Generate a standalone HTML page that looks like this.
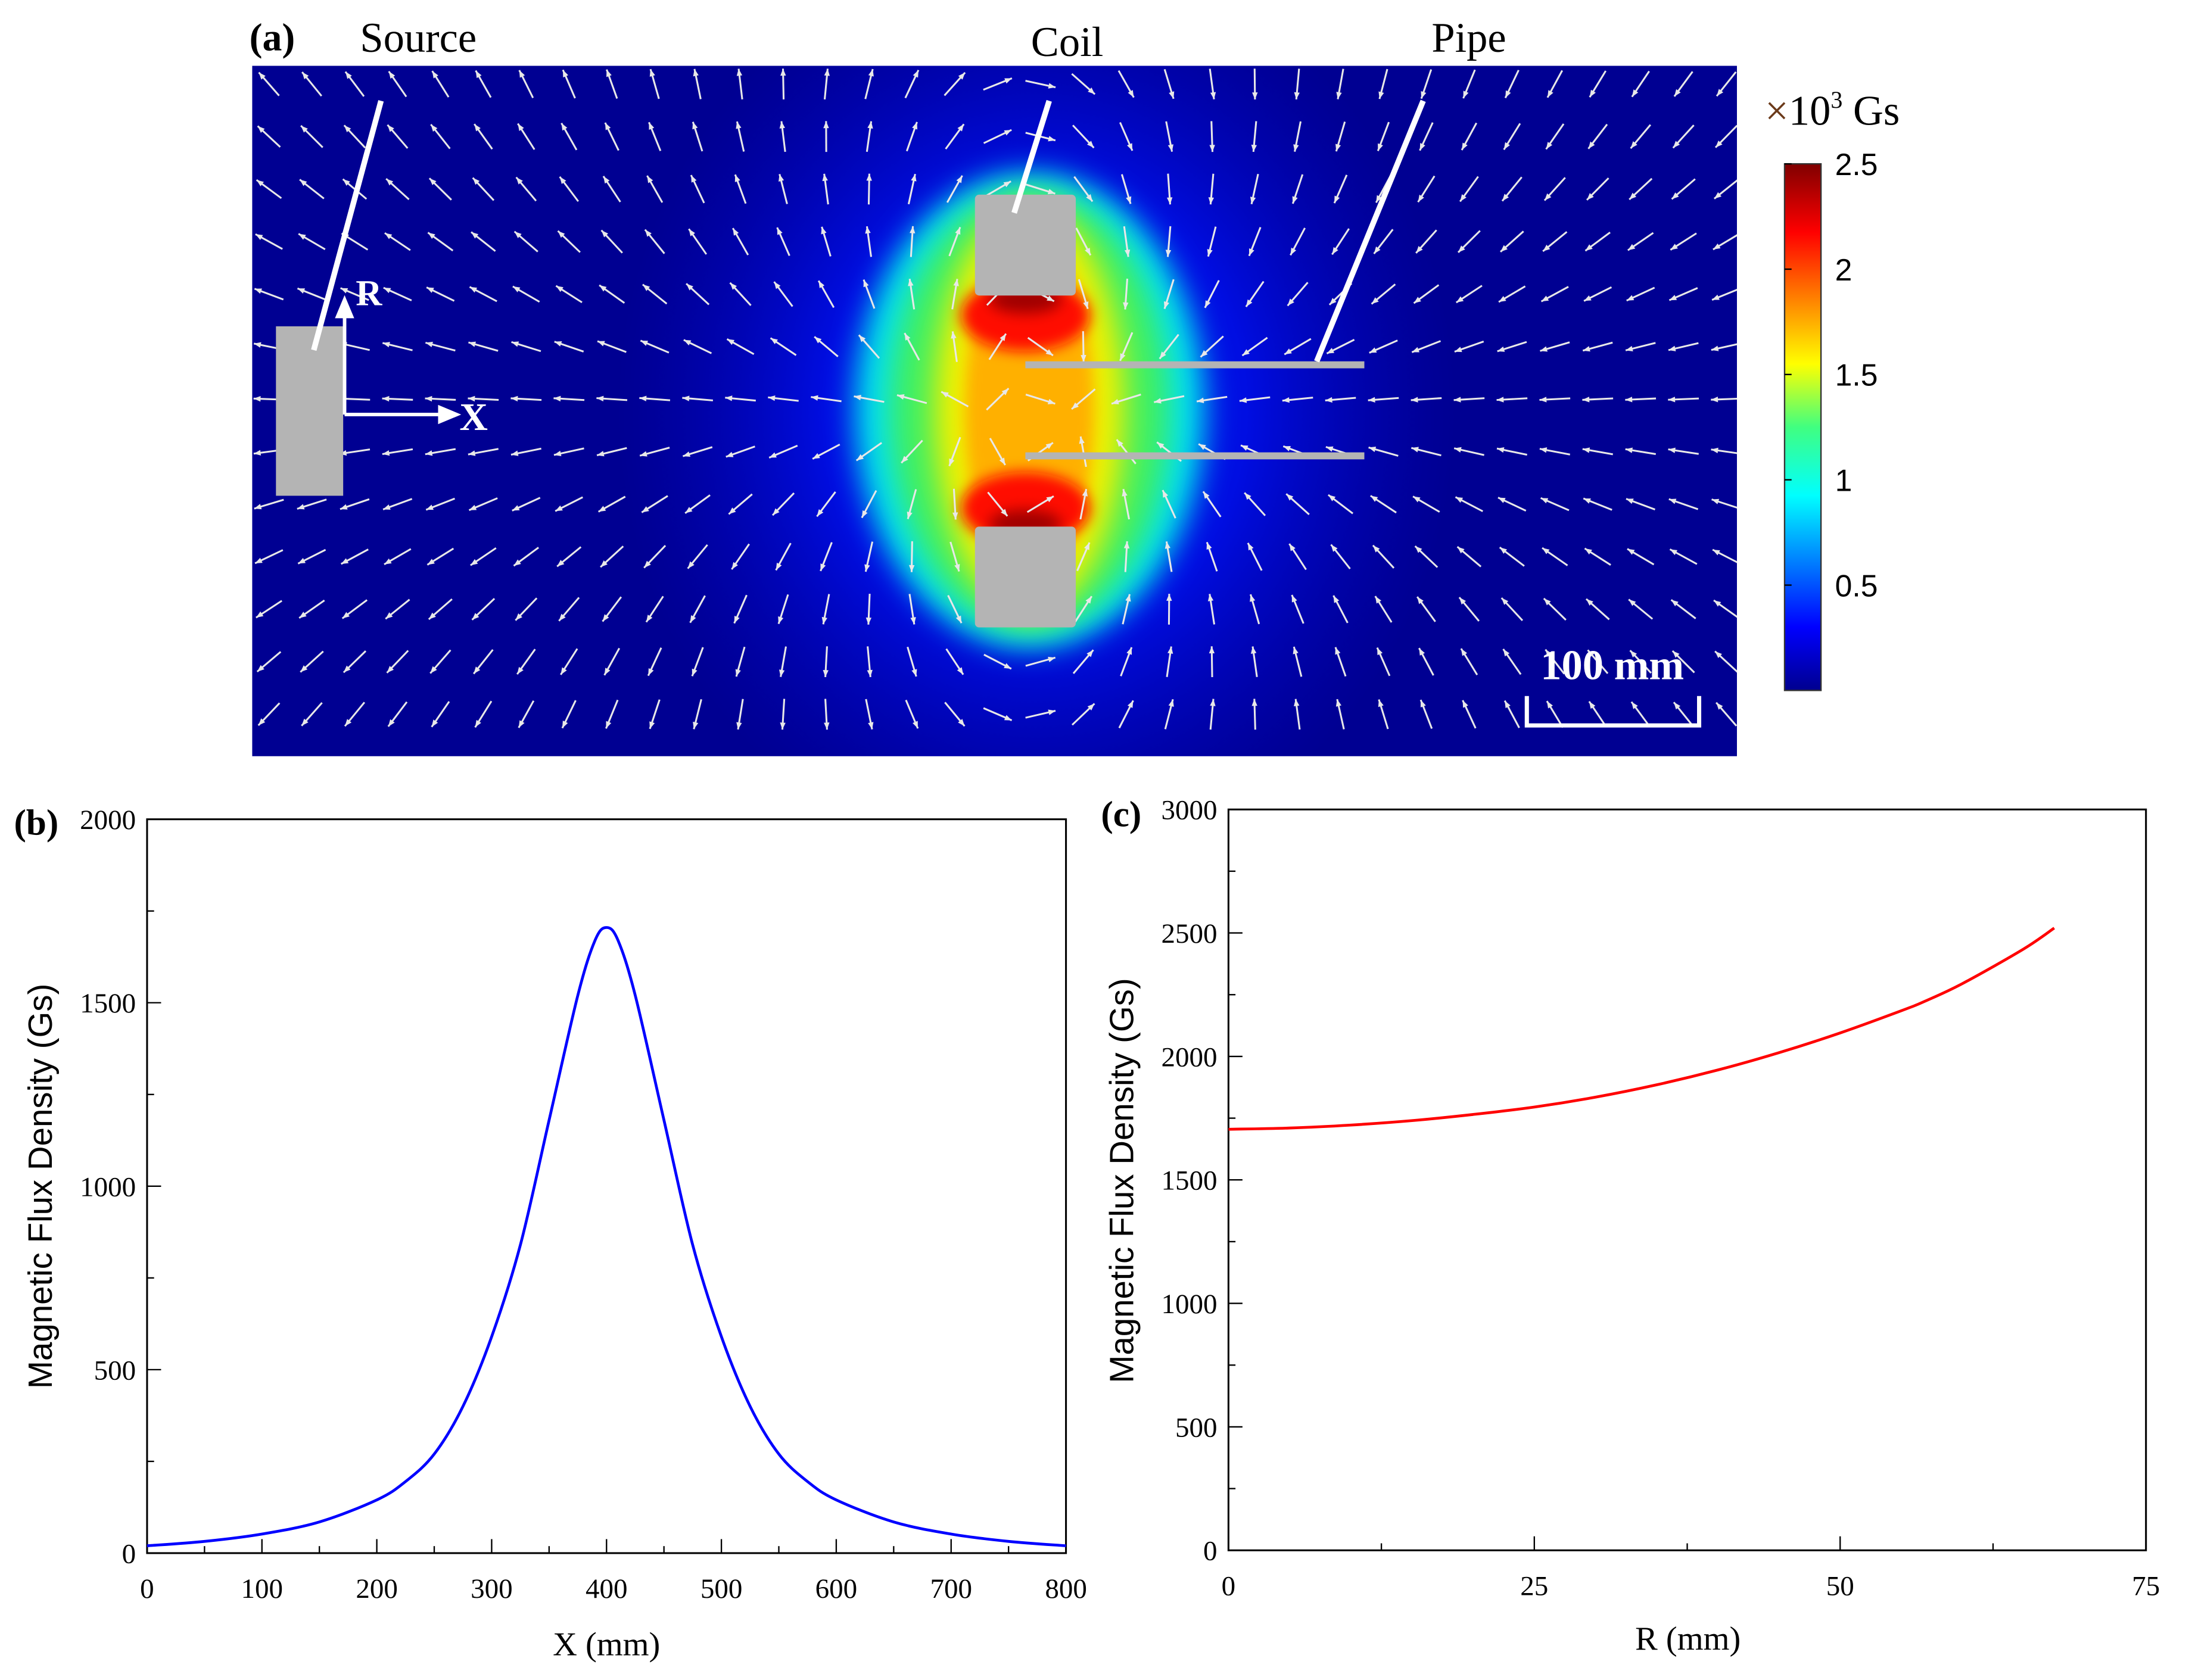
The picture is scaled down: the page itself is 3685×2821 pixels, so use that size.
<!DOCTYPE html>
<html><head><meta charset="utf-8"><style>
html,body{margin:0;padding:0;background:#fff;}
svg{display:block;}
text{font-family:"Liberation Serif",serif;}
</style></head><body>
<svg id="fig" width="3685" height="2821" viewBox="0 0 1567 1199.6" preserveAspectRatio="none" xmlns="http://www.w3.org/2000/svg">
<defs>
<filter id="b2" x="-50%" y="-50%" width="200%" height="200%"><feGaussianBlur stdDeviation="10"/></filter>
<filter id="b3" x="-50%" y="-50%" width="200%" height="200%"><feGaussianBlur stdDeviation="5"/></filter>
<clipPath id="fieldclip"><rect x="180" y="47" width="1060" height="493"/></clipPath>
<linearGradient id="cbar" x1="0" y1="1" x2="0" y2="0">
<stop offset="0" stop-color="#00008f"/><stop offset="0.12" stop-color="#0000ff"/><stop offset="0.37" stop-color="#00ffff"/><stop offset="0.5" stop-color="#40ff80"/><stop offset="0.62" stop-color="#ffff00"/><stop offset="0.87" stop-color="#ff0000"/><stop offset="1" stop-color="#800000"/></linearGradient>
<radialGradient id="glow" cx="0.5" cy="0.5" r="0.5">
<stop offset="0" stop-color="#0040ff" stop-opacity="1"/>
<stop offset="0.5" stop-color="#0010f0" stop-opacity="0.85"/>
<stop offset="1" stop-color="#0000c0" stop-opacity="0"/></radialGradient>
</defs>

<!-- Panel (a) -->
<g clip-path="url(#fieldclip)">
<rect x="180" y="47" width="1060" height="493" fill="#000092"/>
<ellipse cx="740" cy="293" rx="300" ry="330" fill="url(#glow)"/>
<ellipse cx="735" cy="293" rx="125" ry="170" fill="#00e0f0" filter="url(#b2)"/>
<ellipse cx="735" cy="293" rx="100" ry="158" fill="#40f060" filter="url(#b2)"/>
<ellipse cx="735" cy="293" rx="68" ry="145" fill="#f0f000" filter="url(#b2)"/>
<ellipse cx="735" cy="293" rx="46" ry="125" fill="#ffb000" filter="url(#b3)"/>
<ellipse cx="732" cy="225" rx="46" ry="26" fill="#ff1000" filter="url(#b3)"/>
<ellipse cx="732" cy="363" rx="46" ry="26" fill="#ff1000" filter="url(#b3)"/>
<ellipse cx="732" cy="214" rx="26" ry="10" fill="#a00000" filter="url(#b3)"/>
<ellipse cx="732" cy="374" rx="26" ry="10" fill="#a00000" filter="url(#b3)"/>
<g id="arrows"></g>
<rect x="197" y="233" width="48" height="121" fill="#b4b4b4"/>
<rect x="696" y="139" width="72" height="72" rx="3" fill="#b4b4b4"/>
<rect x="696" y="376" width="72" height="72" rx="3" fill="#b4b4b4"/>
<rect x="732" y="258" width="242" height="5" fill="#b4b4b4"/>
<rect x="732" y="323" width="242" height="5" fill="#b4b4b4"/>
<line x1="272" y1="72" x2="224" y2="250" stroke="#fff" stroke-width="4"/>
<line x1="749" y1="72" x2="724" y2="152" stroke="#fff" stroke-width="4"/>
<line x1="1016" y1="72" x2="940" y2="258" stroke="#fff" stroke-width="4"/>
<g stroke="#fff" stroke-width="2.5" fill="#fff">
<line x1="246" y1="296" x2="318" y2="296"/><polygon points="326,296 314,291 314,301"/>
<line x1="246" y1="296" x2="246" y2="222"/><polygon points="246,214 241,226 251,226"/>
</g>
<text x="254" y="218" font-size="26" font-weight="bold" fill="#fff">R</text>
<text x="328" y="307" font-size="28" font-weight="bold" fill="#fff">X</text>
<g stroke="#fff" stroke-width="3" fill="none">
<polyline points="1090,497 1090,518 1213,518 1213,497"/></g>
<text x="1151" y="485" text-anchor="middle" font-size="30" font-weight="bold" fill="#fff">100 mm</text>
</g>
<text x="178" y="36" font-size="28" font-weight="bold">(a)</text>
<text x="257" y="37" font-size="30">Source</text>
<text x="736" y="40" font-size="30">Coil</text>
<text x="1022" y="37" font-size="30">Pipe</text>

<!-- colorbar -->
<g>
<rect x="1274" y="117" width="26" height="376" fill="url(#cbar)" stroke="#333" stroke-width="1"/>
<g id="cbticks"></g>
</g>
<text x="1260" y="89" font-size="30"><tspan fill="#6b3a1a">×</tspan>10<tspan font-size="17" dy="-12">3</tspan><tspan dy="12"> Gs</tspan></text>

<!-- Panel b -->
<g id="pb"></g>
<text x="10" y="596" font-size="26" font-weight="bold">(b)</text>
<text x="433" y="1182" text-anchor="middle" font-size="24">X (mm)</text>
<text transform="translate(37,847) rotate(-90)" text-anchor="middle" font-size="24" style="font-family:'Liberation Sans',sans-serif">Magnetic Flux Density (Gs)</text>

<!-- Panel c -->
<g id="pc"></g>
<text x="786" y="590" font-size="26" font-weight="bold">(c)</text>
<text x="1205" y="1178" text-anchor="middle" font-size="24">R (mm)</text>
<text transform="translate(809,843) rotate(-90)" text-anchor="middle" font-size="24" style="font-family:'Liberation Sans',sans-serif">Magnetic Flux Density (Gs)</text>
</svg>
<script>
// ---- data ----
const bX = [0,50,100,150,200,225,250,275,300,325,350,375,390,400,410,425,450,475,500,525,550,575,600,650,700,750,800];
const bY = [20,32,52,85,145,195,270,400,590,840,1180,1520,1670,1705,1670,1520,1180,840,590,400,270,195,145,85,52,32,20];
const bXTicks = [0,100,200,300,400,500,600,700,800];
const bYTicks = [0,500,1000,1500,2000];
const cR = [0,5,10,15,20,25,30,35,40,45,50,55,57,60,65,67.5];
const cB = [1705,1710,1722,1740,1765,1795,1835,1885,1945,2015,2095,2185,2225,2295,2435,2520];
const cXTicks = [0,25,50,75];
const cYTicks = [0,500,1000,1500,2000,2500,3000];
const cbTicks = [0.5,1,1.5,2,2.5];

const NS = 'http://www.w3.org/2000/svg';
function mk(tag, attrs, parent){const e=document.createElementNS(NS,tag);for(const k in attrs)e.setAttribute(k,attrs[k]);parent.appendChild(e);return e;}

// colorbar ticks
const cbg=document.getElementById('cbticks');
const cbY=v=>493-(v/2.5)*376;
cbTicks.forEach(v=>{
  const l=mk('line',{x1:1274,x2:1279,y1:cbY(v),y2:cbY(v),stroke:'#000','stroke-width':1},cbg);
  
  
  const t=mk('text',{x:1310,y:cbY(v)+8,'font-size':22,style:"font-family:'Liberation Sans',sans-serif"},cbg);
  
  
  t.textContent=String(v);
});

// arrows
const ag=document.getElementById('arrows');
for(let gy=60; gy<540; gy+=37.5){
  for(let gx=192; gx<1235; gx+=30.6){
    const dx=(gx-732)/100, dy=(gy-293)/100;
    const r2=dx*dx+dy*dy+0.15, r=Math.sqrt(r2);
    const mx=-1, mdotr=(mx*dx)/r;
    let bx=3*mdotr*dx/r - mx, by=(3*mdotr*dy/r)*1.6;
    const n=Math.hypot(bx,by)||1; bx/=n; by/=n;
    const L=11;
    const x1=gx-bx*L, y1=gy-by*L, x2=gx+bx*L, y2=gy+by*L;
    const a=mk('line',{x1:x1,y1:y1,x2:x2,y2:y2,stroke:'#e8e8e8','stroke-width':1.3},ag);
    
    
    const px=-by, py=bx;
    const h=mk('polygon',{points:`${x2},${y2} ${x2-bx*5+px*2},${y2-by*5+py*2} ${x2-bx*5-px*2},${y2-by*5-py*2}`,fill:'#e8e8e8'},ag);
    
    
  }
}

function chart(g,box,xmax,ymax,xt,yt,xs,ys,color){
  const sx=v=>box.x+(v/xmax)*box.w, sy=v=>box.y+box.h-(v/ymax)*box.h;
  const fr=mk('rect',{x:box.x,y:box.y,width:box.w,height:box.h,fill:'none',stroke:'#000','stroke-width':1.3},g);
  
  
  xt.forEach(v=>{
    const l=mk('line',{x1:sx(v),x2:sx(v),y1:box.y+box.h,y2:box.y+box.h-10,stroke:'#000','stroke-width':1},g);
    
    
    const t=mk('text',{x:sx(v),y:box.y+box.h+32,'text-anchor':'middle','font-size':20},g);
    
    
    t.textContent=v;
  });
  for(let i=0;i<xt.length-1;i++){const m=(xt[i]+xt[i+1])/2;
    const l=mk('line',{x1:sx(m),x2:sx(m),y1:box.y+box.h,y2:box.y+box.h-5,stroke:'#000','stroke-width':1},g);
    
    }
  yt.forEach(v=>{
    const l=mk('line',{x1:box.x,x2:box.x+10,y1:sy(v),y2:sy(v),stroke:'#000','stroke-width':1},g);
    
    
    const t=mk('text',{x:box.x-8,y:sy(v)+7,'text-anchor':'end','font-size':20},g);
    
    
    t.textContent=v;
  });
  for(let i=0;i<yt.length-1;i++){const m=(yt[i]+yt[i+1])/2;
    const l=mk('line',{x1:box.x,x2:box.x+5,y1:sy(m),y2:sy(m),stroke:'#000','stroke-width':1},g);
    
    }
  const P=xs.map((v,i)=>[sx(v),sy(ys[i])]);
  let d=`M${P[0][0]},${P[0][1]}`;
  for(let i=0;i<P.length-1;i++){
    const p0=P[Math.max(0,i-1)],p1=P[i],p2=P[i+1],p3=P[Math.min(P.length-1,i+2)];
    const c1=[p1[0]+(p2[0]-p0[0])/6,p1[1]+(p2[1]-p0[1])/6];
    const c2=[p2[0]-(p3[0]-p1[0])/6,p2[1]-(p3[1]-p1[1])/6];
    d+=` C${c1[0]},${c1[1]} ${c2[0]},${c2[1]} ${p2[0]},${p2[1]}`;
  }
  const pa=mk('path',{d:d,fill:'none',stroke:color,'stroke-width':2},g);
  
  
}
chart(document.getElementById('pb'),{x:105,y:585,w:656,h:524},800,2000,bXTicks,bYTicks,bX,bY,'#0000ff');
chart(document.getElementById('pc'),{x:877,y:578,w:655,h:529},75,3000,cXTicks,cYTicks,cR,cB,'#ff0000');
</script>
</body></html>
